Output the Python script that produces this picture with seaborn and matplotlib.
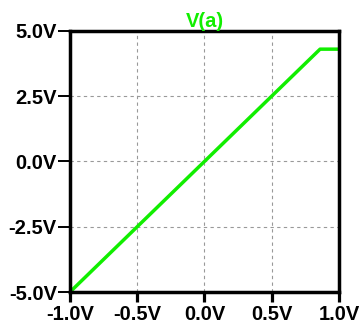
import numpy as np
import pandas as pd
import matplotlib
matplotlib.use("Agg")
import matplotlib.pyplot as plt
import seaborn as sns
from matplotlib.ticker import FuncFormatter

# Trace V(a) vs input sweep (clips near 4.3V)
vin = [-1.0, 0.86, 1.0]
va = [-5.0, 4.3, 4.3]
x_ticks = [-1.0, -0.5, 0.0, 0.5, 1.0]
y_ticks = [-5.0, -2.5, 0.0, 2.5, 5.0]

df = pd.DataFrame({"vin": vin, "va": va})

sns.set_theme(style="white")
plt.rcParams["font.family"] = ["Liberation Sans", "DejaVu Sans"]

fig = plt.figure(figsize=(3.59, 3.25), dpi=100)
ax = fig.add_axes([0.195, 0.1015, 0.749, 0.8035])

green = "#11ee00"
sns.lineplot(data=df, x="vin", y="va", ax=ax, color=green, linewidth=2.5)

ax.set_xlim(-1.0, 1.0)
ax.set_ylim(-5.0, 5.0)
ax.set_xticks(x_ticks)
ax.set_yticks(y_ticks)
fmt = FuncFormatter(lambda v, p: f"{v:.1f}V")
ax.xaxis.set_major_formatter(fmt)
ax.yaxis.set_major_formatter(fmt)
ax.set_xlabel("")
ax.set_ylabel("")

ax.grid(True, color="#999999", linestyle=(0, (3, 3)), linewidth=0.8)
for s in ax.spines.values():
    s.set_color("black")
    s.set_linewidth(2.5)

ax.tick_params(axis="x", direction="out", length=7.5, width=2.3, color="black",
               labelsize=14.5, pad=2, bottom=True)
ax.tick_params(axis="y", direction="out", length=9, width=1.4, color="black",
               labelsize=14.5, pad=0.5, left=True)
for lab in ax.get_xticklabels() + ax.get_yticklabels():
    lab.set_fontweight("bold")
    lab.set_color("black")

ax.set_title("V(a)", color=green, fontweight="bold", fontsize=14.5, pad=3)

fig.savefig("out.png", dpi=100)
